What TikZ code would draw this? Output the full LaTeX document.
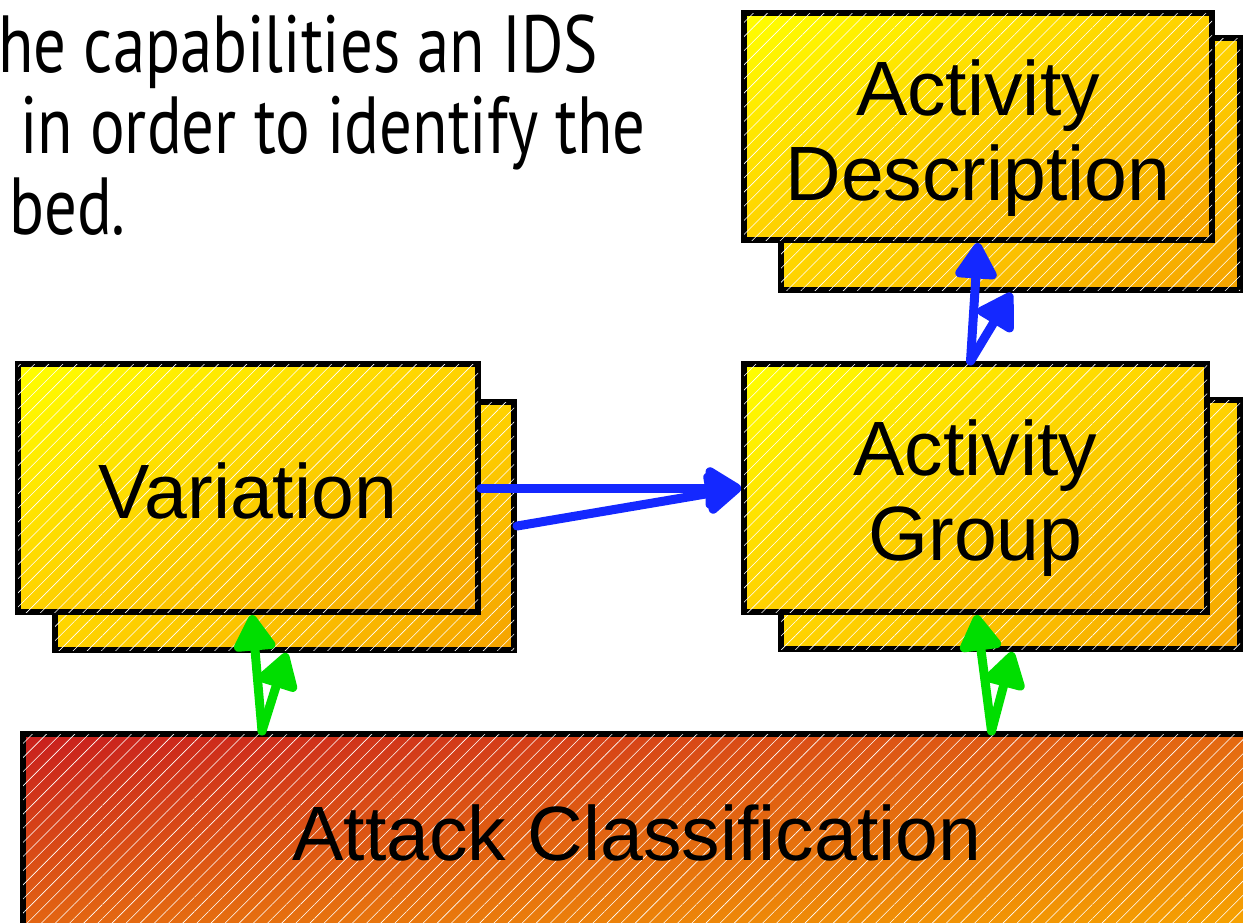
\documentclass[tikz,border=0pt]{standalone}
\usepackage{fontspec}
\setmainfont{Liberation Sans}
\newfontfamily\notefont[FakeStretch=0.80]{PT Sans}
\usetikzlibrary{arrows.meta,calc,shadings,patterns.meta}

\definecolor{boxyellow}{RGB}{255,255,0}
\definecolor{boxmid}{RGB}{255,210,0}
\definecolor{boxorange}{RGB}{245,162,0}
\definecolor{attred}{RGB}{200,30,30}
\definecolor{attmid}{RGB}{228,104,18}
\definecolor{attorange}{RGB}{247,165,0}
\definecolor{linkblue}{RGB}{20,40,255}
\definecolor{linkgreen}{RGB}{0,222,0}

\begin{document}
\begin{tikzpicture}[x=1pt,y=-1pt,
  hatch/.style={postaction={pattern={Lines[angle=45,distance=10pt,line width=0.6pt]},pattern color=white,fill opacity=#1}},
  box/.style={shade,draw=black,line width=6pt,inner sep=0pt,align=center,
    upper left=boxyellow,upper right=boxmid,lower left=boxmid,lower right=boxorange,
    font=\fontsize{77}{85}\selectfont,hatch=0.09},
  attbox/.style={shade,draw=black,line width=6pt,inner sep=0pt,
    upper left=attred,upper right=attmid,lower left=attmid,lower right=attorange,
    font=\fontsize{77}{85}\selectfont,hatch=0.16},
  boxtext/.style={align=center,inner sep=0pt,font=\fontsize{77}{85}\selectfont},
  note/.style={anchor=base west,inner sep=0pt,font=\notefont\fontsize{81}{82}\selectfont},
  link/.style={line width=9pt,line cap=round,-{Triangle[length=40pt,width=46pt,round]}},
  blue link/.style={link,draw=linkblue},
  green link/.style={link,draw=linkgreen}]
\useasboundingbox (0,0) rectangle (1243,922);
\clip (0,0) rectangle (1243,922);

% text of the slide, cut at the left
\node[note] (note1) at (-2,72) {he capabilities an IDS};
\node[note] (note2) at (20,153) {in order to identify the};
\node[note] (note3) at (9,234) {bed.};

% stacked boxes
\node[box,minimum width=459pt,minimum height=248pt] (varB) at (284.5,526) {};
\node[box,minimum width=460pt,minimum height=248pt] (var) at (248,488) {};
\node[boxtext] (varText) at ($(var.center)+(0,3)$) {Variation};
\node[box,minimum width=459pt,minimum height=249pt] (grpB) at (1010.5,524.5) {};
\node[box,minimum width=463pt,minimum height=248pt] (grp) at (975.5,488) {};
\node[boxtext] (grpText) at ($(grp.center)+(0,10)$) {Activity\\Group};
\node[box,minimum width=459pt,minimum height=252pt] (descB) at (1010.5,164) {};
\node[box,minimum width=468pt,minimum height=227pt] (desc) at (978,126.5) {};
\node[boxtext] (descText) at ($(desc.center)+(0,12)$) {Activity\\Description};
\node[attbox,minimum width=1228pt,minimum height=198pt] (att) at (637,833) {Attack Classification};

% links
\draw[blue link] (var.east) -- (grp.west);
\draw[blue link] (varB.east) -- (grp.west);
\draw[blue link] ([xshift=-5pt]grp.north) -- (desc.south);
\draw[blue link] ([xshift=-5pt]grp.north) -- ([xshift=1pt]descB.south);
\draw[green link] ($(var.south |- att.north)+(14,0)$) -- ([xshift=4pt]var.south);
\draw[green link] ($(var.south |- att.north)+(14,0)$) -- ([xshift=2pt]varB.south);
\draw[green link] ($(grp.south |- att.north)+(16,0)$) -- ([xshift=1pt]grp.south);
\draw[green link] ($(grp.south |- att.north)+(16,0)$) -- ([xshift=2pt]grpB.south);
\end{tikzpicture}
\end{document}
